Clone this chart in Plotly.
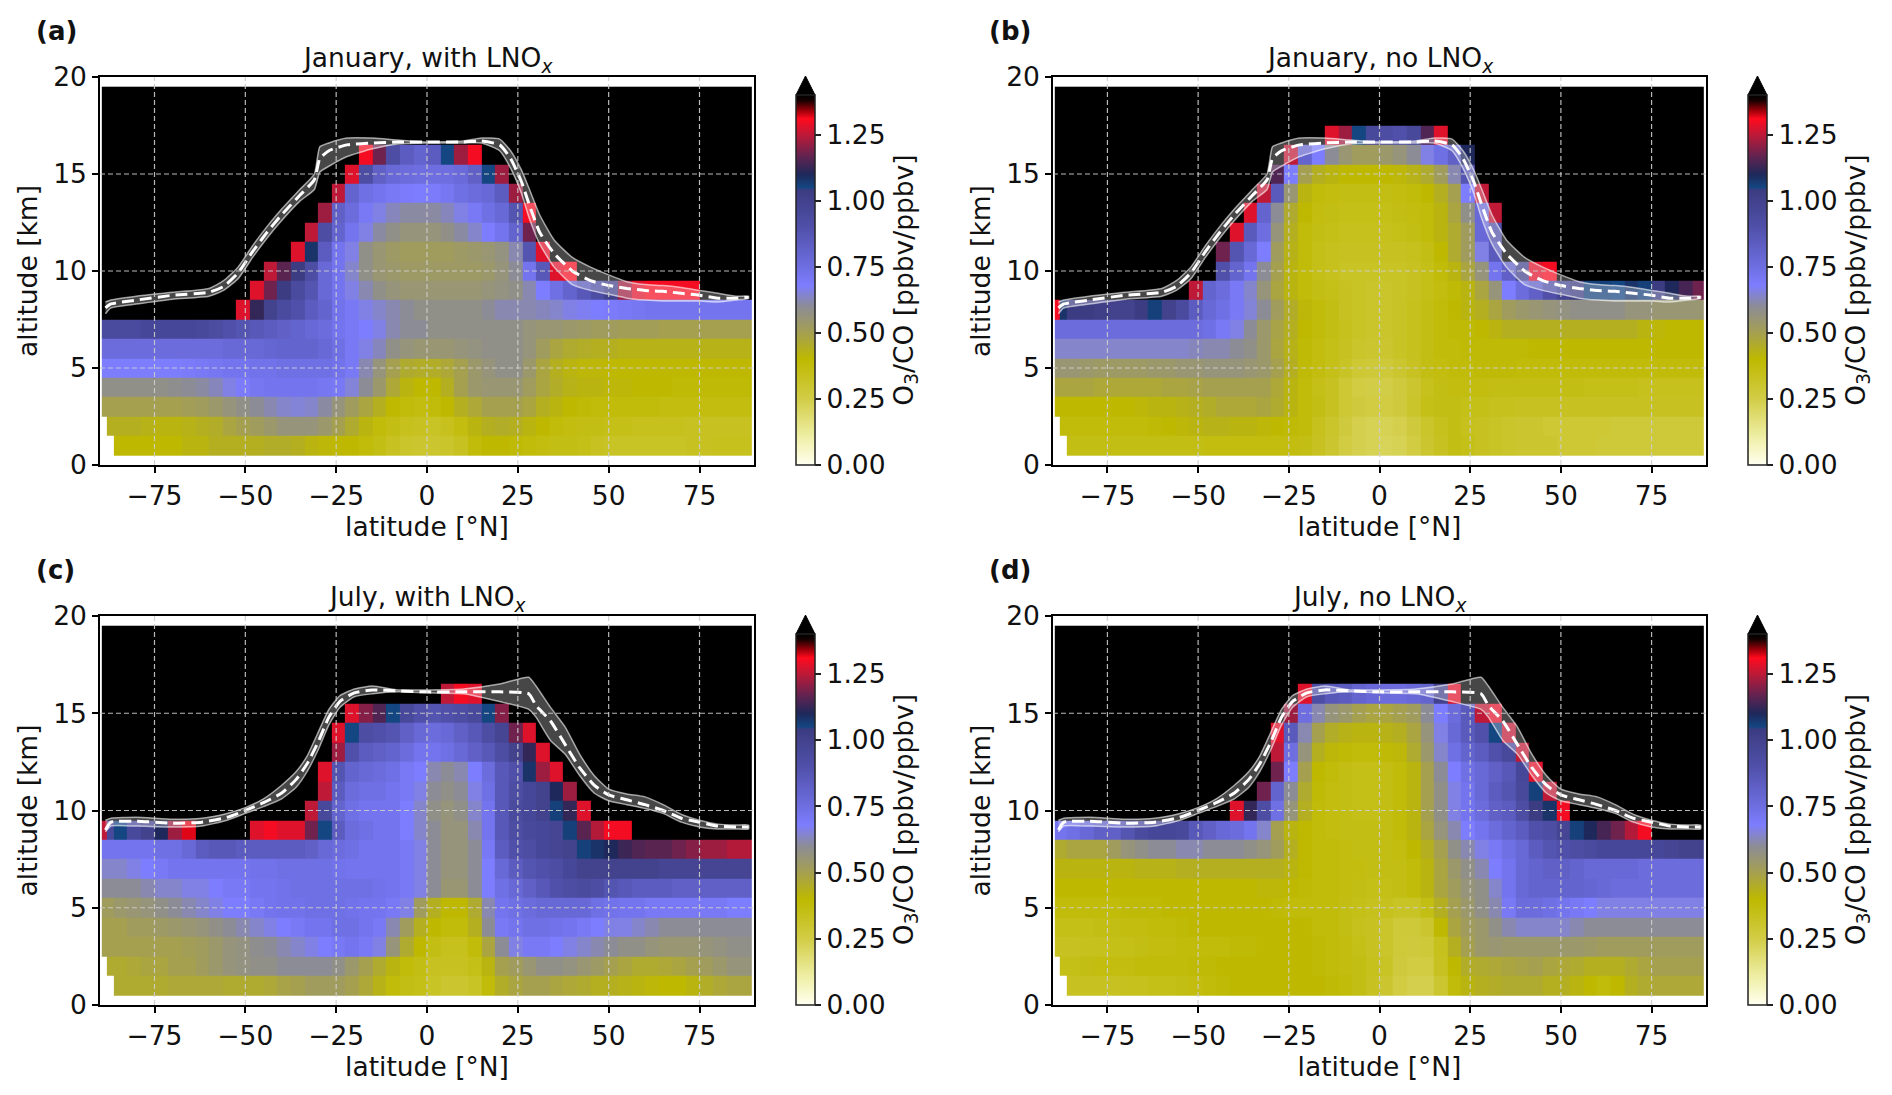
import numpy as np
import plotly.graph_objects as go

W, H = 1892, 1095
K = 150  # above the colour range: drawn black

LAT_EDGES = [-89.5, -88.1, -86.25, -82.5, -78.75, -75, -71.25, -67.5, -63.75, -60, -56.25, -52.5, -48.75, -45,
             -41.25, -37.5, -33.75, -30, -26.25, -22.5, -18.75, -15, -11.25, -7.5, -3.75, 0, 3.75, 7.5, 11.25,
             15, 18.75, 22.5, 26.25, 30, 33.75, 37.5, 41.25, 45, 48.75, 52.5, 56.25, 60, 63.75, 67.5, 71.25,
             75, 78.75, 82.5, 86.25, 89.5]
ALT_EDGES = [0.5 + i for i in range(20)]
XTICKS = [-75, -50, -25, 0, 25, 50, 75]
YTICKS = [0, 5, 10, 15, 20]
CBTICKS = [0, 0.25, 0.5, 0.75, 1.0, 1.25]

CMAP_VALS = [0, 0.1, 0.25, 0.4, 0.5, 0.6, 0.68, 0.75, 0.9, 1.04, 1.05, 1.1, 1.17, 1.25, 1.31, 1.34, 1.38, 1.4]
CMAP_COLS = ["rgb(255,255,240)", "rgb(240,240,170)", "rgb(210,205,70)", "rgb(190,185,0)", "rgb(165,160,80)",
             "rgb(140,140,150)", "rgb(125,125,255)", "rgb(110,110,225)", "rgb(80,80,170)", "rgb(60,60,130)",
             "rgb(20,70,130)", "rgb(30,40,90)", "rgb(100,35,80)", "rgb(190,25,55)", "rgb(255,10,30)",
             "rgb(160,0,10)", "rgb(20,0,0)", "rgb(0,0,0)"]

# Ratio x100, rows from the lowest level up: (first column, values); everything else in the row is black, -1 is blank
Z_A = [
 (0,[-1,-1,40,40,40,40,40,42,42,44, 44,44,44,45,45,44,42,41,40,40, 38,36,33,31,30,30,31,33,38,40, 40,39,38,37,36,36,35,33,32,32, 32,32,32,32,33,33,34,34,34]),
 (0,[-1,44,44,44,43,42,42,43,44,45, 48,50,52,54,56,56,56,54,50,46, 42,38,36,34,33,32,34,37,42,44, 45,44,42,40,38,37,36,36,35,35, 34,34,34,34,33,33,33,33,33]),
 (0,[50,50,50,50,50,50,50,51,52,54, 56,58,60,62,64,65,64,61,56,52, 48,44,40,38,37,38,40,44,47,50, 50,50,48,44,42,40,39,38,38,38, 38,38,37,37,37,37,37,37,37]),
 (0,[58,58,58,58,58,58,59,60,61,63, 66,69,71,72,72,72,72,71,70,65, 60,54,47,42,40,40,44,50,54,55, 55,55,52,48,45,43,42,42,41,41, 40,40,40,39,39,39,39,39,39]),
 (0,[68,68,68,68,68,68,68,69,70,71, 72,72,73,73,74,74,74,74,73,70, 62,56,50,46,45,45,47,50,54,56, 58,58,54,48,44,42,41,41,40,40, 40,40,40,40,40,40,40,40,40]),
 (0,[76,76,76,76,76,76,76,76,76,76, 78,78,78,79,80,80,80,78,74,70, 66,63,58,56,55,55,55,56,57,58, 58,58,56,52,48,46,45,44,44,43, 43,43,43,43,43,43,43,43,43]),
 (0,[94,94,94,94,96,96,96,96,95,93, 90,88,86,84,82,80,78,76,72,70, 68,66,62,60,60,58,58,58,58,58, 58,58,56,55,55,54,53,52,52,51, 51,51,50,50,50,50,50,50,50]),
 (11,[128,112,100,94,90,84,80,73,70, 66,64,62,60,58,58,58,58,58,60, 62,62,62,63,64,66,67,68,69,70, 71,72,72,72,72,72,72,72,72]),
 (12,[128,118,104,94,88,78,72,66, 62,58,56,55,55,55,55,55,55,56, 57,58,62,68,74,80,86,92,100,122, 128,130,130,130,130]),
 (13,[125,116,104,92,78,72,64, 58,55,54,53,53,53,53,53,53,54, 56,60,72,86,128,130]),
 (15,[128,108,84,72,66, 58,55,53,52,52,52,52,53,54,55, 57,62,88,128]),
 (16,[125,92,80,72, 66,61,58,56,56,56,58,61,64,68, 72,80,118]),
 (17,[122,82,76, 70,66,63,61,61,61,63,66,70,74, 78,88,130]),
 (18,[125,80, 74,72,70,69,68,69,71,74,76,78, 84,122]),
 (19,[128, 92,82,78,76,75,75,75,77,82,105, 122]),
 (20,[130,118,92,84,80,84,105,122,130]),
]
Z_B = [
 (0,[-1,-1,36,36,36,36,36,36,36,36, 36,36,37,37,37,37,37,37,37,36, 33,30,26,24,23,22,23,26,30,33, 36,35,33,32,31,30,30,30,29,29, 29,28,28,28,28,28,28,28,28]),
 (0,[-1,38,38,38,38,38,38,38,39,40, 41,42,43,43,42,42,41,40,39,38, 34,31,27,24,23,23,24,27,31,34, 36,34,33,32,31,30,30,29,29,29, 29,29,28,28,28,28,28,28,28]),
 (0,[40,40,40,40,40,40,40,41,42,42, 43,44,45,47,47,47,48,46,42,38, 36,33,29,27,26,26,27,31,35,36, 36,35,35,34,34,33,33,33,33,33, 33,33,33,33,33,33,33,33,33]),
 (0,[48,48,48,48,47,47,47,47,47,48, 48,49,50,50,50,50,50,47,42,38, 35,33,29,26,25,25,27,30,34,36, 37,37,37,36,36,36,36,36,36,36, 35,35,35,35,34,34,34,34,34]),
 (0,[55,55,55,54,53,53,53,53,54,54, 55,55,56,56,56,55,54,50,44,39, 37,35,32,29,28,28,30,33,36,37, 38,38,39,39,39,38,38,38,38,38, 38,38,38,38,38,38,38,38,38]),
 (0,[64,64,64,64,64,64,64,64,64,64, 64,63,62,62,60,58,54,48,43,39, 37,35,33,31,30,30,32,34,36,38, 38,39,39,39,39,39,40,40,40,40, 40,40,40,40,40,40,40,40,40]),
 (0,[76,76,76,76,76,76,76,76,76,76, 76,76,74,70,66,60,54,49,44,40, 38,36,34,32,31,31,32,34,36,38, 39,39,40,42,44,44,44,44,44,44, 44,44,44,44,42,41,40,40,40]),
 (0,[130,108,104,104,102,100,100,104,106,100, 94,84,78,74,70,65,60,52,45,41, 38,36,33,32,31,31,32,34,36,38, 40,42,44,48,52,54,55,56,57,58, 58,58,58,56,56,55,55,55,55]),
 (11,[125,80,76,70,64,56,48,42,38, 36,35,33,32,31,31,32,33,35,37, 39,42,48,56,68,76,82,90,98,104, 106,106,105,108,106,104,110,114,118]),
 (12,[145,90,80,72,60,50,42,38, 35,34,32,32,32,32,32,33,35,38, 42,48,56,72,82,100,128,130]),
 (13,[118,88,78,68,52,43,38, 35,34,33,33,33,33,33,34,36,40, 46,52,66,85]),
 (14,[128,85,75,56,44,38, 36,35,34,34,34,34,35,36,38,42, 46,52,78,90]),
 (15,[128,80,60,46,40, 37,36,35,35,35,35,36,37,38,42, 48,58,78,125]),
 (16,[125,85,55,42, 38,37,36,36,36,36,37,38,40,44, 50,68,125]),
 (17,[115,68,50, 44,42,40,40,40,40,41,43,46,52, 62,88]),
 (18,[125,80, 68,60,55,52,52,54,56,60,66,74, 82,110]),
 (21,[128,122,105,95,92,90,95,115,128]),
]
Z_C = [
 (0,[-1,-1,46,46,46,46,47,47,47,47, 46,46,46,47,49,50,52,52,52,50, 47,43,38,36,35,32,30,30,32,38, 45,48,50,50,48,47,46,44,44,43, 42,41,40,40,42,45,47,48,48]),
 (0,[-1,46,46,47,48,48,50,50,52,54, 56,57,58,58,60,60,60,60,58,54, 50,46,42,38,36,33,33,33,35,42, 50,52,55,58,58,57,55,53,50,48, 46,46,47,48,50,52,54,56,56]),
 (0,[50,50,50,50,50,50,50,51,52,54, 56,57,59,60,62,64,66,68,70,72, 70,66,56,46,40,36,34,34,38,48, 60,66,70,70,68,66,64,62,60,58, 58,56,55,55,55,56,57,58,58]),
 (0,[50,50,50,52,52,53,54,55,56,58, 60,62,64,66,68,70,72,72,74,74, 72,70,62,52,44,40,38,38,44,60, 70,72,74,74,73,72,70,68,66,66, 64,62,60,60,60,60,60,60,60]),
 (0,[52,52,54,55,56,58,60,62,64,66, 68,68,70,72,73,73,74,74,74,73, 72,72,70,66,52,44,40,40,46,62, 72,74,76,78,78,78,78,74,73,72, 72,70,70,70,70,70,70,68,68]),
 (0,[60,60,60,60,62,64,64,66,66,68, 70,70,72,72,73,74,74,74,74,74, 74,73,72,70,66,60,55,55,60,68, 74,78,82,86,90,92,94,92,88,86, 84,84,84,82,82,82,82,82,82]),
 (0,[64,64,64,66,68,70,72,72,72,72, 72,72,73,73,74,74,74,74,73,72, 72,72,72,70,66,60,56,56,60,68, 78,84,88,90,92,96,100,100,100,100, 100,100,98,98,98,98,98,98,98]),
 (0,[72,72,72,72,72,74,74,78,84,86, 86,84,84,84,84,84,82,78,76,74, 72,72,72,70,66,60,56,56,60,70, 84,90,92,96,98,100,106,108,110,113, 115,116,116,118,120,122,122,124,124]),
 (0,[125,95,105,95,100,110,122,132,150,150, 150,150,128,130,128,128,118,105,84,76, 74,72,72,68,64,60,56,56,62,72, 86,92,95,96,98,106,116,124,130,130, 142]),
 (16,[125,95,80,74, 72,72,72,68,64,58,56,58,64,72, 86,94,96,100,106,112,128]),
 (17,[125,84,76, 74,74,72,70,66,60,58,60,66,74, 86,92,96,100,110,122]),
 (17,[128,88,80, 78,76,74,70,68,62,60,62,68,76, 86,90,108,122,128]),
 (18,[122,90, 84,82,80,76,72,72,74,78,82,86, 92,100,112,128]),
 (18,[128,105, 92,90,88,82,78,76,78,82,86,92, 98,118,128]),
 (19,[128, 120,115,105,95,90,88,90,92,95,105, 120]),
 (25,[140,125,130,128]),
]
Z_D = [
 (0,[-1,-1,33,33,33,33,34,34,35,35, 36,37,38,39,40,40,40,40,40,40, 40,39,38,36,33,30,26,24,24,30, 38,42,44,45,46,46,46,44,44,42, 40,38,40,44,46,47,47,47,47]),
 (0,[-1,35,35,36,37,37,37,38,38,38, 38,39,39,40,40,40,40,40,40,40, 39,38,37,36,34,32,27,26,26,33, 40,45,46,47,48,49,50,48,47,46, 44,44,44,46,48,50,50,50,50]),
 (0,[33,33,33,34,34,35,35,36,37,37, 38,38,38,38,39,39,40,40,40,40, 39,38,37,35,33,31,28,27,28,34, 44,50,54,55,54,54,54,54,54,54, 53,52,52,52,52,52,52,52,52]),
 (0,[35,35,35,35,36,36,37,37,38,38, 39,40,40,40,40,40,40,40,40,40, 38,38,36,34,33,31,28,28,30,40, 48,52,54,58,62,64,64,64,64,62, 60,60,60,60,60,60,60,60,60]),
 (0,[38,38,38,38,38,38,39,39,39,40, 40,40,40,40,40,40,40,39,38,38, 38,38,36,35,34,34,32,32,36,44, 50,54,58,62,70,76,76,74,72,70, 68,66,66,66,66,66,66,66,66]),
 (0,[40,40,40,40,40,40,40,40,40,40, 40,40,40,40,40,40,41,41,40,39, 38,38,37,36,35,35,36,38,42,48, 52,56,58,64,72,78,80,80,80,80, 79,78,76,76,76,76,76,76,76]),
 (0,[42,42,42,42,42,42,42,43,43,43, 44,44,44,44,44,44,44,44,42,40, 38,38,37,37,36,36,36,38,42,48, 54,58,62,68,72,78,80,82,82,80, 78,78,78,78,76,76,76,76,76]),
 (0,[46,46,48,48,48,52,56,58,60,60, 62,62,60,60,60,58,56,52,44,40, 38,38,37,36,36,36,37,40,44,50, 58,62,66,70,74,78,84,88,90,92, 94,96,96,96,96,96,98,100,100]),
 (0,[72,72,74,78,82,82,88,94,96,96, 95,86,82,78,76,72,64,50,42,40, 38,37,36,36,36,36,38,42,48,56, 62,68,72,76,80,84,90,92,98,106, 110,114,118,124,130]),
 (0,[150,150,145,145,150,150,150,150,150,150, 150,150,150,150,128,112,92,74,56,44, 38,37,36,35,35,36,38,42,50,58, 66,72,76,82,84,92,104,108,130]),
 (16,[118,80,60,46, 39,37,36,35,35,36,38,42,50,58, 66,72,78,84,88,95,106,125]),
 (17,[118,68,50, 40,38,36,35,35,36,38,42,50,60, 68,74,78,82,86,96,128]),
 (17,[125,75,56, 44,41,39,38,38,39,41,46,54,64, 74,80,84,90,95,125]),
 (17,[128,85,62, 50,45,43,42,42,43,44,48,56,66, 78,85,90,105,125]),
 (18,[122,75, 62,56,54,50,48,48,50,52,60,68, 76,85,125,128]),
 (19,[128, 92,86,84,80,78,76,76,78,80,100, 128]),
]

LAT_JAN = [-88.5,-87,-80,-70,-60,-56,-52,-48,-44,-40,-35,-31,-29.5,-27,-22,-15,-8,0,10,15,20,23,26,28,31,35,40,45,50,55,60,65,70,75,80,85,88.5]
TP_JAN = [8.1,8.3,8.5,8.75,8.9,9.2,9.9,11.0,12.0,12.9,13.9,14.7,15.8,16.2,16.5,16.6,16.65,16.65,16.65,16.7,16.5,15.8,14.6,13.5,12.0,10.9,10.0,9.5,9.25,9.1,9.0,8.95,8.85,8.75,8.6,8.6,8.65]
UP_JAN = [8.4,8.5,8.7,8.9,9.1,9.5,10.2,11.3,12.3,13.2,14.2,15.0,16.4,16.6,16.85,16.85,16.75,16.65,16.7,16.85,16.8,16.2,15.2,14.3,12.9,11.6,10.7,10.2,9.8,9.45,9.3,9.25,9.15,9.0,8.85,8.7,8.7]
LO_JAN = [7.8,8.1,8.3,8.55,8.7,9.0,9.6,10.7,11.7,12.6,13.6,14.2,15.1,15.4,15.9,16.3,16.55,16.6,16.6,16.6,16.2,15.3,14.0,12.8,11.4,10.2,9.3,9.0,8.8,8.6,8.5,8.45,8.45,8.45,8.4,8.5,8.6]

LAT_JUL = [-88.5,-87,-80,-70,-62,-55,-50,-45,-40,-36,-33,-30,-27,-24,-20,-15,-8,0,10,20,28,30,34,38,42,46,50,55,60,65,70,75,80,85,88.5]
TP_JUL = [9.0,9.4,9.45,9.35,9.4,9.65,10.0,10.4,10.9,11.6,12.4,13.5,14.8,15.6,16.05,16.2,16.15,16.1,16.1,16.1,16.0,15.4,14.6,13.4,12.2,11.3,10.8,10.55,10.3,10.0,9.6,9.4,9.2,9.15,9.15]
UP_JUL = [9.5,9.6,9.65,9.55,9.6,9.85,10.15,10.6,11.3,12.0,12.8,14.0,15.2,15.9,16.25,16.4,16.2,16.2,16.25,16.5,16.85,16.4,15.3,14.3,12.9,11.8,11.1,10.85,10.7,10.3,9.8,9.5,9.3,9.25,9.25]
LO_JUL = [8.9,9.2,9.2,9.15,9.2,9.5,9.85,10.2,10.6,11.2,12.0,13.1,14.4,15.3,15.85,16.0,16.1,16.05,16.0,15.6,15.2,14.8,13.6,12.9,11.8,10.9,10.5,10.3,10.1,9.85,9.4,9.15,9.05,9.05,9.05]

PANELS = [
 ("(a)", "January, with LNO<sub><i>x</i></sub>", Z_A, LAT_JAN, TP_JAN, UP_JAN, LO_JAN),
 ("(b)", "January, no LNO<sub><i>x</i></sub>", Z_B, LAT_JAN, TP_JAN, UP_JAN, LO_JAN),
 ("(c)", "July, with LNO<sub><i>x</i></sub>", Z_C, LAT_JUL, TP_JUL, UP_JUL, LO_JUL),
 ("(d)", "July, no LNO<sub><i>x</i></sub>", Z_D, LAT_JUL, TP_JUL, UP_JUL, LO_JUL),
]

FONT = "DejaVu Sans"
TICK_SIZE, LABEL_SIZE = 26.5, 26.5
colorscale = [[v / CMAP_VALS[-1], c] for v, c in zip(CMAP_VALS, CMAP_COLS)]
NCOL, NROW = len(LAT_EDGES) - 1, len(ALT_EDGES) - 1


def grid(rows):
    z = np.full((NROW, NCOL), K / 100.0)
    for k, (start, vals) in enumerate(rows):
        for j, v in enumerate(vals[: NCOL - start]):
            z[k, start + j] = np.nan if v < 0 else v / 100.0
    return z


# pixel boxes of the panels: left, right, colour bar left; top, bottom
COLS = [(100, 754, 796), (1053, 1706, 1748)]
ROWS = [(77, 465), (616, 1005)]
fig = go.Figure()
shapes, annots = [], []
layout = {}
for i, (letter, title, rows, lat, tp, up, lo) in enumerate(PANELS):
    cx0, cx1, cb0 = COLS[i % 2]
    ry0, ry1 = ROWS[i // 2]
    n = "" if i == 0 else str(i + 1)
    xa, ya = "x" + n, "y" + n
    common = dict(showgrid=False, zeroline=False, showline=True, mirror=True, linecolor="black", linewidth=1.5,
                  ticks="outside", ticklen=6, tickwidth=1.5, tickcolor="black", automargin=False,
                  tickfont=dict(family=FONT, size=TICK_SIZE, color="#111"))
    layout["xaxis" + n] = dict(common, domain=[cx0 / W, cx1 / W], range=[-90, 90], tickvals=XTICKS, anchor=ya,
                               title=dict(text="latitude [°N]", standoff=0, font=dict(family=FONT, size=LABEL_SIZE, color="#111")))
    layout["yaxis" + n] = dict(common, domain=[1 - ry1 / H, 1 - ry0 / H], range=[0, 20], tickvals=YTICKS, anchor=xa,
                               title=dict(text="altitude [km]", standoff=8, font=dict(family=FONT, size=LABEL_SIZE, color="#111")))
    fig.add_trace(go.Heatmap(
        x=LAT_EDGES, y=ALT_EDGES, z=grid(rows), xaxis=xa, yaxis=ya, zmin=0, zmax=CMAP_VALS[-1],
        colorscale=colorscale, hoverongaps=False, xgap=0, ygap=0,
        colorbar=dict(x=cb0 / W, xanchor="left", xpad=0, y=1 - ry1 / H, yanchor="bottom", ypad=0,
                      lenmode="pixels", len=(ry1 - ry0) * 370 / 388, thicknessmode="pixels", thickness=19,
                      outlinecolor="#222", outlinewidth=1.5, ticks="outside", ticklen=6, tickwidth=1.5,
                      tickcolor="#222", tickvals=CBTICKS, tickformat=".2f",
                      tickfont=dict(family=FONT, size=TICK_SIZE, color="#111"),
                      title=dict(text="O<sub>3</sub>/CO [ppbv/ppbv]", side="right",
                                 font=dict(family=FONT, size=LABEL_SIZE, color="#111")))))
    fig.add_trace(go.Scatter(
        x=lat + lat[::-1], y=up + lo[::-1], xaxis=xa, yaxis=ya, mode="lines", fill="toself",
        fillcolor="rgba(255,255,255,0.28)", line=dict(color="rgba(255,255,255,0.6)", width=1.5, shape="spline", smoothing=0.5),
        showlegend=False, hoverinfo="skip"))
    fig.add_trace(go.Scatter(
        x=lat, y=tp, xaxis=xa, yaxis=ya, mode="lines",
        line=dict(color="white", width=3, dash="12px,6px", shape="spline", smoothing=0.5),
        showlegend=False, hoverinfo="skip"))
    grid_line = dict(color="rgba(205,205,205,0.9)", width=1.2, dash="5px,3px")
    for t in XTICKS:
        shapes.append(dict(type="line", xref=xa, yref=ya, x0=t, x1=t, y0=0, y1=20, line=grid_line, layer="above"))
    for t in YTICKS[1:-1]:
        shapes.append(dict(type="line", xref=xa, yref=ya, x0=-90, x1=90, y0=t, y1=t, line=grid_line, layer="above"))
    # the colour bar's "extend" arrow, above its top end
    top = ry1 - (ry1 - ry0) * 370 / 388
    px = lambda x, y: f"{x / W:.5f},{1 - y / H:.5f}"
    shapes.append(dict(type="path", xref="paper", yref="paper", fillcolor="black", line=dict(color="black", width=1),
                       path=f"M {px(cb0, top)} L {px(cb0 + 9.5, top - 19)} L {px(cb0 + 19, top)} Z"))
    annots.append(dict(xref="paper", yref="paper", x=(cx0 + cx1) / 2 / W, y=1 - (ry0 + 2) / H, xanchor="center", yanchor="bottom",
                       text=title, showarrow=False, font=dict(family=FONT, size=LABEL_SIZE, color="#111")))
    annots.append(dict(xref="paper", yref="paper", x=(cx0 - 66) / W, y=1 - (ry0 - 46) / H, xanchor="left", yanchor="middle",
                       text=f"<b>{letter}</b>", showarrow=False, font=dict(family=FONT, size=26, color="#111")))

fig.update_layout(width=W, height=H, margin=dict(l=0, r=0, t=0, b=0, autoexpand=False), paper_bgcolor="white", plot_bgcolor="white",
                  shapes=shapes, annotations=annots, showlegend=False, **layout)
fig.write_html("out.html", post_script="document.body.style.margin='0';", config={"displayModeBar": False})
